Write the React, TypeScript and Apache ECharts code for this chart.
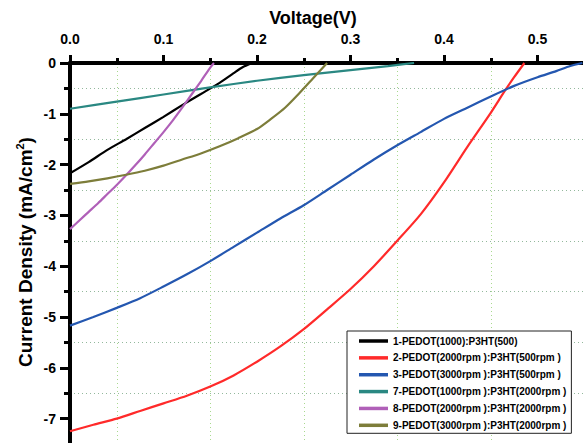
import React, { useEffect, useRef } from "react";
import * as echarts from "echarts";

const seriesNames = [
  "1-PEDOT(1000):P3HT(500)",
  "2-PEDOT(2000rpm ):P3HT(500rpm )",
  "3-PEDOT(3000rpm ):P3HT(500rpm )",
  "7-PEDOT(1000rpm ):P3HT(2000rpm )",
  "8-PEDOT(2000rpm ):P3HT(2000rpm )",
  "9-PEDOT(3000rpm ):P3HT(2000rpm )",
];
const seriesColors = ["#000000", "#ff2a2a", "#2457b0", "#2a8882", "#b060b8", "#7d7d3a"];

const v1 = [0, 0.02, 0.04, 0.06, 0.08, 0.1, 0.12, 0.14, 0.16, 0.175, 0.185, 0.195];
const j1 = [-2.17, -1.95, -1.71, -1.5, -1.28, -1.06, -0.83, -0.61, -0.39, -0.2, -0.08, 0];

const v2 = [0, 0.025, 0.05, 0.075, 0.1, 0.125, 0.15, 0.175, 0.2, 0.225, 0.25, 0.275, 0.3, 0.325, 0.35, 0.375, 0.4, 0.425, 0.45, 0.465, 0.475, 0.486];
const j2 = [-7.25, -7.12, -7.0, -6.85, -6.7, -6.55, -6.37, -6.15, -5.88, -5.58, -5.24, -4.85, -4.45, -4.0, -3.5, -2.98, -2.35, -1.65, -0.98, -0.55, -0.28, 0];

const v3 = [0, 0.025, 0.05, 0.075, 0.1, 0.125, 0.15, 0.175, 0.2, 0.225, 0.25, 0.275, 0.3, 0.325, 0.35, 0.375, 0.4, 0.425, 0.45, 0.475, 0.5, 0.52, 0.535, 0.548];
const j3 = [-5.17, -5.0, -4.82, -4.63, -4.4, -4.16, -3.9, -3.62, -3.34, -3.06, -2.8, -2.5, -2.2, -1.9, -1.62, -1.36, -1.1, -0.88, -0.66, -0.45, -0.28, -0.16, -0.06, 0];

const v7 = [0, 0.05, 0.1, 0.15, 0.2, 0.25, 0.3, 0.34, 0.368];
const j7 = [-0.9, -0.76, -0.62, -0.48, -0.35, -0.24, -0.14, -0.06, 0];

const v8 = [0, 0.01, 0.02, 0.03, 0.04, 0.05, 0.06, 0.07, 0.08, 0.09, 0.1, 0.11, 0.12, 0.13, 0.14, 0.15, 0.154];
const j8 = [-3.27, -3.1, -2.93, -2.76, -2.58, -2.4, -2.21, -2.01, -1.8, -1.58, -1.36, -1.13, -0.88, -0.62, -0.36, -0.09, 0];

const v9 = [0, 0.02, 0.04, 0.06, 0.08, 0.1, 0.12, 0.14, 0.16, 0.18, 0.2, 0.215, 0.23, 0.245, 0.26, 0.275];
const j9 = [-2.38, -2.33, -2.27, -2.2, -2.12, -2.02, -1.9, -1.78, -1.64, -1.48, -1.3, -1.1, -0.88, -0.6, -0.3, 0];

const voltages = [v1, v2, v3, v7, v8, v9];
const currents = [j1, j2, j3, j7, j8, j9];

const xTitle = "Voltage(V)";
const FONT = '"Liberation Sans", Arial, Helvetica, sans-serif';

export default function App() {
  const ref = useRef<HTMLDivElement>(null);
  useEffect(() => {
    if (!ref.current) return;
    const chart = echarts.init(ref.current, null, { renderer: "svg" });
    const series = seriesNames.map((name, i) => ({
      name,
      type: "line",
      data: voltages[i].map((v, k) => [v, currents[i][k]]),
      symbol: "none",
      showSymbol: false,
      smooth: 0.25,
      z: 3,
      lineStyle: { color: seriesColors[i], width: 2.2 },
      itemStyle: { color: seriesColors[i] },
    }));
    chart.setOption({
      animation: false,
      backgroundColor: "#ffffff",
      textStyle: { fontFamily: FONT },
      grid: { left: 70, top: 63, width: 561, height: 406.4 },
      xAxis: {
        type: "value",
        position: "top",
        min: 0,
        max: 0.6,
        interval: 0.1,
        axisLine: { show: true, onZero: false, lineStyle: { color: "#000", width: 4 } },
        axisTick: { show: true, inside: false, length: 8, lineStyle: { color: "#000", width: 3 } },
        minorTick: { show: true, splitNumber: 2, length: 5, lineStyle: { color: "#000", width: 3 } },
        splitLine: { show: false },
        minorSplitLine: { show: true, lineStyle: { color: "#a9d98f", width: 1, type: [1, 3] } },
        axisLabel: {
          color: "#000",
          fontSize: 14,
          fontWeight: "bold",
          fontFamily: FONT,
          margin: 17,
          showMaxLabel: false,
          formatter: (v: number) => v.toFixed(1),
        },
      },
      yAxis: {
        type: "value",
        min: -8,
        max: 0,
        interval: 1,
        axisLine: { show: true, onZero: false, lineStyle: { color: "#000", width: 4 } },
        axisTick: { show: true, inside: false, length: 10, lineStyle: { color: "#000", width: 3 } },
        minorTick: { show: true, splitNumber: 2, length: 6, lineStyle: { color: "#000", width: 3 } },
        splitLine: { show: false },
        minorSplitLine: { show: true, lineStyle: { color: "#93b89c", width: 1, type: [1, 3] } },
        axisLabel: {
          color: "#000",
          fontSize: 14,
          fontWeight: "bold",
          fontFamily: FONT,
          margin: 14,
          showMinLabel: false,
        },
      },
      legend: {
        orient: "vertical",
        left: 347,
        top: 331,
        icon: "rect",
        itemWidth: 29,
        itemHeight: 3.5,
        itemGap: 4.86,
        padding: [4, 5, 2, 12],
        borderColor: "#222",
        borderWidth: 1,
        backgroundColor: "#fff",
        textStyle: { fontSize: 10, lineHeight: 12, fontWeight: "bold", color: "#000", fontFamily: FONT },
        data: seriesNames,
      },
      graphic: [
        {
          type: "text",
          x: 313,
          y: 18,
          style: {
            text: xTitle,
            font: `bold 18px ${FONT}`,
            fill: "#000",
            align: "center",
            verticalAlign: "middle",
          },
        },
        {
          type: "text",
          x: 25,
          y: 252,
          rotation: Math.PI / 2,
          style: {
            text: "{a|Current Density (mA/cm}{s|2}{a|)}",
            align: "center",
            verticalAlign: "middle",
            fill: "#000",
            rich: {
              a: { fontSize: 19, fontWeight: "bold", fontFamily: FONT, fill: "#000", lineHeight: 22 },
              s: { fontSize: 11, fontWeight: "bold", fontFamily: FONT, fill: "#000", verticalAlign: "top", lineHeight: 12 },
            },
          },
        },
      ],
      series,
    });
    return () => chart.dispose();
  }, []);
  return (
    <div
      ref={ref}
      style={{ position: "fixed", left: 0, top: 0, width: 640, height: 480 }}
    />
  );
}
